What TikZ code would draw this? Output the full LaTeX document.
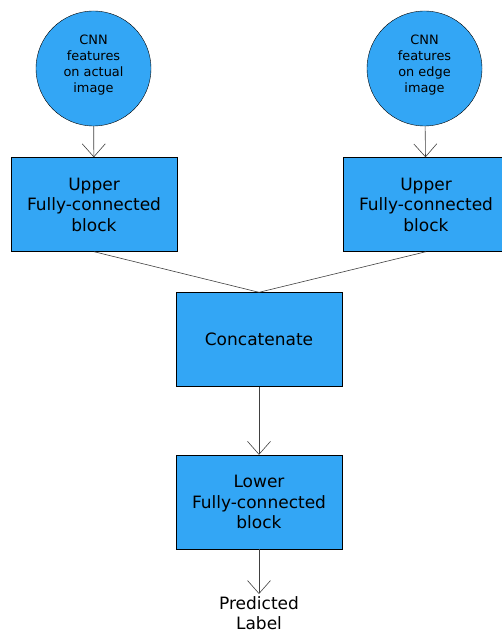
\documentclass[tikz,border=0pt]{standalone}
\usepackage{fontspec}
\setmainfont{DejaVu Sans}
\usetikzlibrary{arrows.meta}
\definecolor{blockblue}{RGB}{51,166,245}

\begin{document}
\begin{tikzpicture}[x=1pt,y=-1pt,
    feature/.style={circle,draw,fill=blockblue,minimum size=115pt,inner sep=0pt,
        align=center,text depth=9pt,font=\fontsize{12.9}{16}\selectfont},
    block/.style={rectangle,draw,fill=blockblue,minimum width=166pt,minimum height=94pt,
        align=center,font=\fontsize{17}{20.5}\selectfont},
    link/.style={draw=black!75,line width=0.6pt},
    flow/.style={link,-{Straight Barb[length=13pt,width=23pt]}}]
    \clip (0,0) rectangle (502,631);

    % inputs
    \node[feature] (actual) at (93.5,68.5) {CNN\\features\\on actual\\image};
    \node[feature] (edge) at (424.5,68.5) {CNN\\features\\on edge\\image};

    % blocks
    \node[block] (upperL) at (94,204.5) {Upper\\Fully-connected\\block};
    \node[block] (upperR) at (426,204.5) {Upper\\Fully-connected\\block};
    \node[block] (concat) at (259,339.5) {Concatenate};
    \node[block] (lower) at (259,502) {Lower\\Fully-connected\\block};
    \node[align=center,font=\fontsize{17}{20.5}\selectfont,inner sep=0pt] (label) at (259,613) {Predicted\\Label};

    \draw[flow] (actual) -- (upperL);
    \draw[flow] (edge) -- (upperR);
    \draw[link] (upperL.south) -- (concat.north);
    \draw[link] (upperR.south) -- (concat.north);
    \draw[flow] (concat) -- (lower);
    \draw[flow] (lower.south) -- ([yshift=2pt]label.north);

\end{tikzpicture}
\end{document}
